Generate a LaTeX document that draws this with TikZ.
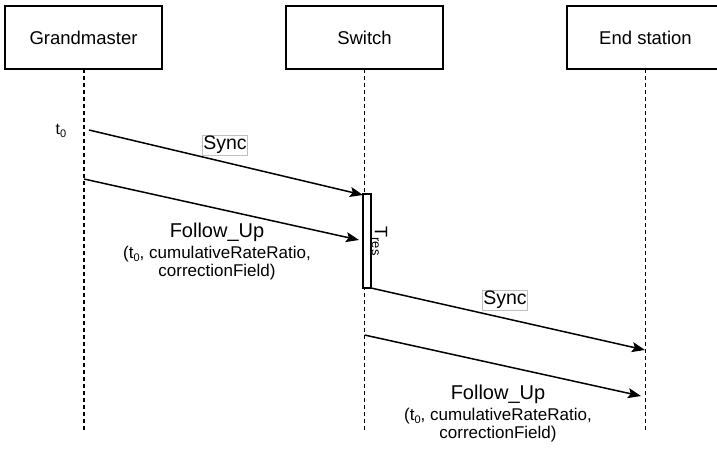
\documentclass[tikz,border=0pt]{standalone}
\usepackage{fontspec}
\setmainfont{Liberation Sans}
\usetikzlibrary{arrows.meta}
\newcommand{\lowidx}[1]{\raisebox{-0.3ex}{\fontsize{11}{12}\selectfont #1}}
\tikzset{
  actor/.style={draw, line width=1.3pt, minimum width=157pt, minimum height=63pt, inner sep=0pt, font=\fontsize{18.5}{22}\selectfont},
  lifeline/.style={line width=1.3pt, dash pattern=on 4pt off 3pt},
  msg/.style={line width=1.5pt, -{Stealth[length=13pt, width=10pt, inset=2.5pt]}},
  tag/.style={draw=black!25, fill=white, inner sep=1pt, font=\fontsize{19.5}{22}\selectfont},
  fu/.style={align=center, inner sep=0pt, font=\fontsize{17}{18.5}\selectfont},
}
\begin{document}
\begin{tikzpicture}[x=1pt,y=-1pt]
\useasboundingbox (0,0) rectangle (717,450);
\node[actor] (gm) at (83.5,37.5) {Grandmaster};
\node[actor] (sw) at (364.5,37.5) {Switch};
\node[actor] (es) at (645.5,37.5) {End station};
\coordinate (gmend) at (84,430);
\coordinate (swend) at (364.5,430);
\coordinate (esend) at (645.5,430);
\draw[lifeline] (84,69) -- (gmend);
\draw[lifeline] (364.5,69) -- (swend);
\draw[lifeline] (645.5,69) -- (esend);
% activation
\node[draw, fill=white, line width=1.3pt, minimum width=8pt, minimum height=94pt, inner sep=0pt] (act) at (367,241) {};
\node[rotate=-90, font=\fontsize{18}{20}\selectfont, inner sep=0pt] (tres) at (379.5,241) {T\raisebox{-0.3ex}{\fontsize{13}{14}\selectfont res}};
\node[font=\fontsize{16}{18}\selectfont, inner sep=0pt] (t0) at (61,131) {t\lowidx{0}};
% coordinates for messages
\coordinate (s1a) at (89,130);
\coordinate (s1b) at (363,195);
\coordinate (f1a) at (84,179);
\coordinate (f1b) at (359,240);
\coordinate (s2a) at (371,288);
\coordinate (s2b) at (645,350);
\coordinate (f2a) at (364.5,335);
\coordinate (f2b) at (641,396);
\draw[msg] (s1a) -- (s1b);
\draw[msg] (f1a) -- (f1b);
\draw[msg] (s2a) -- (s2b);
\draw[msg] (f2a) -- (f2b);
\node[tag] (sync1) at (225,145) {Sync};
\node[tag] (sync2) at (505,300) {Sync};
\node[fu] (fu1) at (217,252) {{\fontsize{20}{22}\selectfont Follow\_Up}\\[2pt](t\lowidx{0}, cumulativeRateRatio,\\correctionField)};
\node[fu] (fu2) at (498,414) {{\fontsize{20}{22}\selectfont Follow\_Up}\\[2pt](t\lowidx{0}, cumulativeRateRatio,\\correctionField)};
\end{tikzpicture}
\end{document}
